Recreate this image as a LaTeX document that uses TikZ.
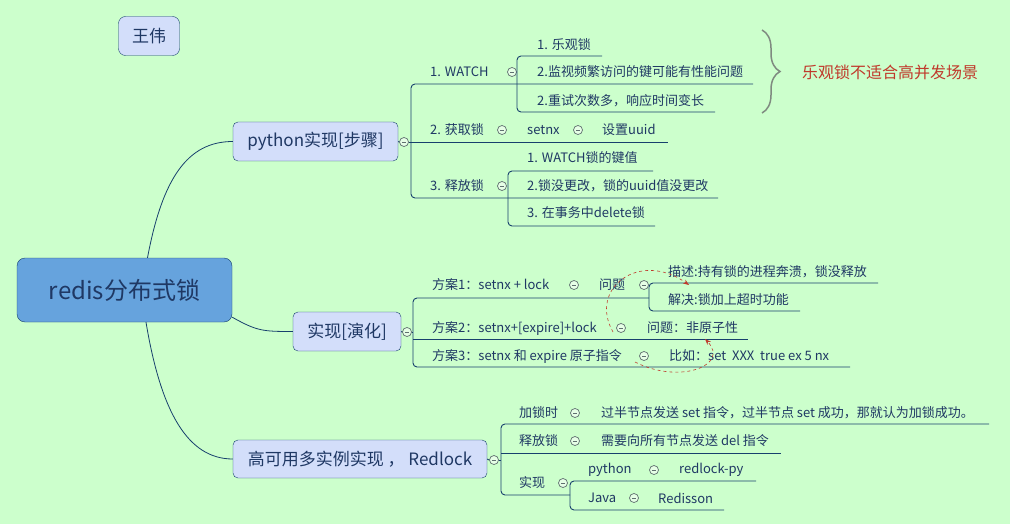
\documentclass[tikz,border=0pt]{standalone}
\usepackage{fontspec}
\setmainfont{Noto Sans CJK SC}
\usetikzlibrary{arrows.meta,decorations.pathreplacing}
\definecolor{bg}{HTML}{CCFFCC}
\definecolor{navy}{HTML}{1F3864}
\definecolor{edge}{HTML}{17406D}
\definecolor{topicfill}{HTML}{D3DEFA}
\definecolor{rootfill}{HTML}{66A3DD}
\definecolor{noteRed}{HTML}{C0392B}
\definecolor{foldgray}{HTML}{5F6F6F}
\definecolor{bracegray}{HTML}{7F8A80}

\begin{document}
\begin{tikzpicture}[x=1pt, y=-1pt,
    topic/.style={draw=edge, fill=topicfill, rounded corners=5pt, text=navy,
        font=\fontsize{17}{17}\selectfont, inner sep=0pt},
    item/.style={anchor=west, inner sep=0pt, text=navy, font=\fontsize{13}{13}\selectfont},
    branch/.style={draw=edge, line width=0.9pt},
    fold/.style={circle, draw=foldgray, fill=bg!50!white, minimum size=9pt, inner sep=0pt,
        line width=0.7pt, path picture={\draw[foldgray, line width=0.7pt]
        ([xshift=-2.2pt]path picture bounding box.center) -- ([xshift=2.2pt]path picture bounding box.center);}},
    hint/.style={draw=noteRed, dashed, line width=0.6pt, -{Stealth[length=6pt,width=4.5pt]}}]

    \fill[bg] (0,0) rectangle (1010,524);
    \useasboundingbox (0,0) rectangle (1010,524);

    % main topics
    \node[topic, minimum width=61pt, minimum height=39pt, rounded corners=7pt] (author) at (149,36) {王伟};
    \node[topic, fill=rootfill, minimum width=215pt, minimum height=64pt, rounded corners=8pt,
        font=\fontsize{24}{24}\selectfont] (root) at (124.5,290) {redis分布式锁};
    \node[topic, minimum width=165pt, minimum height=39pt] (py) at (315.5,141.5) {python实现[步骤]};
    \node[topic, minimum width=108pt, minimum height=39pt] (evo) at (347,331.5) {实现[演化]};
    \node[topic, minimum width=254pt, minimum height=38pt] (ha) at (360,459) {高可用多实例实现 ， Redlock};

    \draw[branch, line width=0.8pt] ([xshift=23pt]root.north) .. controls +(15,-80) and +(-45,0) .. (py.west);
    \draw[branch, line width=0.8pt] ([yshift=5pt]root.south east) .. controls +(25,14) and +(-30,0) .. (evo.west);
    \draw[branch, line width=0.8pt] ([xshift=21.5pt]root.south) .. controls +(15,90) and +(-45,0) .. (ha.west);

    % python branch
    \node[fold] (fpy) at (404,142) {};
    \node[item] (w1) at (430,72) {1. WATCH};
    \node[fold] (fw1) at (512,72) {};
    \node[item] (w11) at (537,45) {1. 乐观锁};
    \node[item] (w12) at (537,72) {2.监视频繁访问的键可能有性能问题};
    \node[item] (w13) at (537,101) {2.重试次数多，响应时间变长};
    \node[item] (g1) at (430,130) {2. 获取锁};
    \node[fold] (fg1) at (502,130) {};
    \node[item] (g2) at (527,130) {setnx};
    \node[fold] (fg2) at (578,130) {};
    \node[item] (g3) at (602,130) {设置uuid};
    \node[item] (r1) at (430,186) {3. 释放锁};
    \node[fold] (fr1) at (502,186) {};
    \node[item] (r11) at (527,158) {1. WATCH锁的键值};
    \node[item] (r12) at (527,186) {2.锁没更改，锁的uuid值没更改};
    \node[item] (r13) at (527,213) {3. 在事务中delete锁};

    \draw[branch] (py.east) -- (fpy.west);
    \draw[branch] (fpy.east) -- (668,142);
    \draw[branch, rounded corners=4pt] (753,84) -- (411,84) -- (411,198) -- (718,198);
    \draw[branch, rounded corners=4pt] (602,56) -- (517,56) -- (517,112) -- (715,112);
    \draw[branch, rounded corners=4pt] (653,171) -- (508,171) -- (508,226) -- (655,226);

    \draw[decorate, decoration={brace, amplitude=18pt}, draw=bracegray, line width=1.5pt] (762,30) -- (762,113);
    \node[anchor=west, inner sep=0pt, text=noteRed, font=\fontsize{16}{16}\selectfont] (note) at (802,72) {乐观锁不适合高并发场景};

    % evolution branch
    \node[fold] (fevo) at (407,332) {};
    \node[item] (s1) at (432,285) {方案1：setnx + lock};
    \node[fold] (fs1) at (574,285) {};
    \node[item] (s1q) at (599,285) {问题};
    \node[fold] (fs1q) at (644,285) {};
    \node[item] (s1a) at (668,272) {描述:持有锁的进程奔溃，锁没释放};
    \node[item] (s1b) at (668,300) {解决:锁加上超时功能};
    \node[item] (s2) at (432,328) {方案2：setnx+[expire]+lock};
    \node[fold] (fs2) at (621,328) {};
    \node[item] (s2q) at (647,328) {问题：非原子性};
    \node[item] (s3) at (432,356) {方案3：setnx 和 expire 原子指令};
    \node[fold] (fs3) at (644,356) {};
    \node[item] (s3e) at (669,356) {比如：set\ \ XXX\ \ true ex 5 nx};

    \draw[branch] (evo.east) -- (fevo.west);
    \draw[branch] (fevo.east) -- (413,332);
    \draw[branch, rounded corners=4pt] (649,298) -- (413,298) -- (413,367) -- (850,367);
    \draw[branch] (413,339) -- (748,339);
    \draw[branch, rounded corners=4pt] (878,283) -- (649,283) -- (649,311) -- (800,311);

    \coordinate (h1s) at (613,332);
    \coordinate (h1e) at (689,285);
    \coordinate (h2s) at (635,362);
    \coordinate (h2e) at (705,339);
    \draw[hint] (h1s) .. controls (588,288) and (640,250) .. (h1e);
    \draw[hint] (h2s) .. controls (680,385) and (730,365) .. (h2e);

    % redlock branch
    \node[fold] (fha) at (494,460) {};
    \node[item] (h1) at (519,413) {加锁时};
    \node[fold] (fh1) at (575,413) {};
    \node[item] (h1d) at (601,413) {过半节点发送 set 指令，过半节点 set 成功，那就认为加锁成功。};
    \node[item] (h2) at (519,441) {释放锁};
    \node[fold] (fh2) at (575,441) {};
    \node[item] (h2d) at (601,441) {需要向所有节点发送 del 指令};
    \node[item] (h3) at (519,483) {实现};
    \node[fold] (fh3) at (563,483) {};
    \node[item] (h31) at (588,470) {python};
    \node[fold] (fh31) at (654,470) {};
    \node[item] (h31d) at (679,470) {redlock-py};
    \node[item] (h32) at (588,498) {Java};
    \node[fold] (fh32) at (634,498) {};
    \node[item] (h32d) at (658,498) {Redisson};

    \draw[branch] (ha.east) -- (fha.west);
    \draw[branch] (fha.east) -- (501,460);
    \draw[branch, rounded corners=4pt] (989,424) -- (501,424) -- (501,495) -- (570,495);
    \draw[branch] (501,453) -- (781,453);
    \draw[branch, rounded corners=4pt] (756,481) -- (570,481) -- (570,510) -- (724,510);
\end{tikzpicture}
\end{document}
